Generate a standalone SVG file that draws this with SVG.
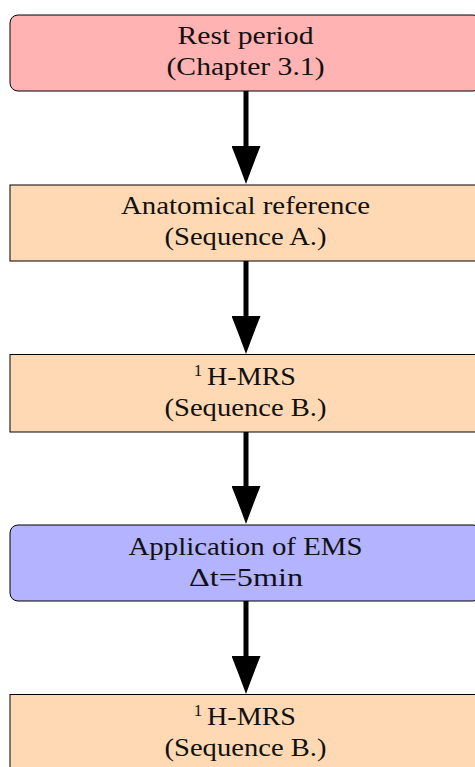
<svg xmlns="http://www.w3.org/2000/svg" width="475" height="767" viewBox="0 0 475 767">
  <style>
    .box { stroke: #000; stroke-width: 1; }
    .rest { fill: #FFB3B3; }
    .seq { fill: #FFD9B3; }
    .ems { fill: #B3B3FF; }
    .lbl { font-family: "Liberation Serif", "DejaVu Serif", serif; font-size: 26px; fill: #111; text-anchor: middle; }
    .sup { font-size: 17px; }
    .conn { stroke: #000; stroke-width: 5; fill: none; }
  </style>
  <defs>
    <marker id="head" markerUnits="userSpaceOnUse" viewBox="0 0 38 29" refX="0" refY="14.5" markerWidth="38" markerHeight="29" orient="auto">
      <path d="M0,0 Q20,8 38,14.5 Q20,21 0,29 Z" fill="#000"/>
    </marker>
  </defs>

  <!-- flow arrows -->
  <g id="connectors">
    <line class="conn" x1="246" y1="91" x2="246" y2="146" marker-end="url(#head)"/>
    <line class="conn" x1="246" y1="261" x2="246" y2="316" marker-end="url(#head)"/>
    <line class="conn" x1="246" y1="432" x2="246" y2="486" marker-end="url(#head)"/>
    <line class="conn" x1="246" y1="601" x2="246" y2="656" marker-end="url(#head)"/>
  </g>

  <g id="rest-period">
    <rect class="box rest" x="10" y="15" width="471" height="76" rx="8"/>
    <text class="lbl" x="245.5" y="44" textLength="136" lengthAdjust="spacingAndGlyphs">Rest period</text>
    <text class="lbl" x="245.5" y="75" textLength="158" lengthAdjust="spacingAndGlyphs">(Chapter 3.1)</text>
  </g>

  <g id="anatomical-reference">
    <rect class="box seq" x="10" y="185" width="471" height="76"/>
    <text class="lbl" x="245.5" y="214" textLength="249" lengthAdjust="spacingAndGlyphs">Anatomical reference</text>
    <text class="lbl" x="245.5" y="245" textLength="162" lengthAdjust="spacingAndGlyphs">(Sequence A.)</text>
  </g>

  <g id="mrs-1">
    <rect class="box seq" x="10" y="354.5" width="471" height="77.5"/>
    <text class="lbl" x="198" y="376" style="font-size:17px">1</text>
    <text class="lbl" x="251.5" y="385" textLength="89" lengthAdjust="spacingAndGlyphs">H-MRS</text>
    <text class="lbl" x="245.5" y="416" textLength="162" lengthAdjust="spacingAndGlyphs">(Sequence B.)</text>
  </g>

  <g id="ems">
    <rect class="box ems" x="10" y="525" width="471" height="76" rx="8"/>
    <text class="lbl" x="245.5" y="555" textLength="234" lengthAdjust="spacingAndGlyphs">Application of EMS</text>
    <text class="lbl" x="246" y="586" textLength="114" lengthAdjust="spacingAndGlyphs">Δt=5min</text>
  </g>

  <g id="mrs-2">
    <rect class="box seq" x="10" y="694.5" width="471" height="77.5"/>
    <text class="lbl" x="198" y="716" style="font-size:17px">1</text>
    <text class="lbl" x="251.5" y="725" textLength="89" lengthAdjust="spacingAndGlyphs">H-MRS</text>
    <text class="lbl" x="245.5" y="756" textLength="162" lengthAdjust="spacingAndGlyphs">(Sequence B.)</text>
  </g>
</svg>
